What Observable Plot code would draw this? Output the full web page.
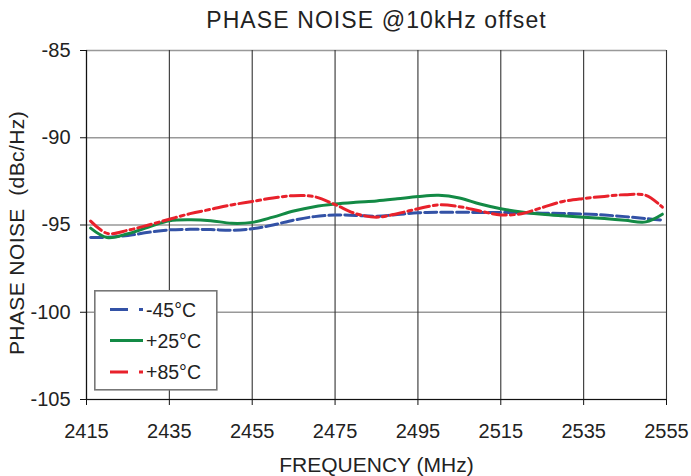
<!DOCTYPE html>
<html>
<head>
<meta charset="utf-8">
<script src="https://cdn.jsdelivr.net/npm/d3@7"></script>
<script src="https://cdn.jsdelivr.net/npm/@observablehq/plot@0.6"></script>
<style>
  html, body { margin: 0; padding: 0; background: #fff; }
  #wrap { position: relative; width: 691px; height: 476px; font-family: "Liberation Sans", Arial, sans-serif; }
  #wrap svg { display: block; }
  #legend { position: absolute; left: 94px; top: 290px; }
</style>
</head>
<body>
<div id="wrap"></div>
<script>
const title = "PHASE NOISE @10kHz offset";
const xLabel = "FREQUENCY (MHz)";
const yLabel = "PHASE NOISE\u00a0 (dBc/Hz)";
const seriesNames = ["-45°C", "+25°C", "+85°C"];
const seriesColors = ["#3352a6", "#138a45", "#e8212b"];
const xTicks = [2415, 2435, 2455, 2475, 2495, 2515, 2535, 2555];
const yTicks = [-85, -90, -95, -100, -105];

const freqs = [2416,2420,2425,2430,2435,2440,2445,2450,2455,2460,2465,2470,2475,2480,2485,2490,2495,2500,2505,2510,2515,2520,2525,2530,2535,2540,2545,2550,2554];
const m45 = [-95.72,-95.7,-95.6,-95.42,-95.28,-95.25,-95.26,-95.3,-95.22,-95.0,-94.72,-94.52,-94.43,-94.45,-94.5,-94.4,-94.3,-94.27,-94.27,-94.28,-94.28,-94.3,-94.32,-94.34,-94.37,-94.43,-94.52,-94.63,-94.72];
const p25 = [-95.18,-95.72,-95.5,-95.12,-94.76,-94.7,-94.75,-94.9,-94.85,-94.55,-94.2,-93.95,-93.8,-93.7,-93.62,-93.5,-93.37,-93.3,-93.45,-93.8,-94.07,-94.25,-94.38,-94.47,-94.55,-94.63,-94.73,-94.82,-94.38];
const p85 = [-94.78,-95.48,-95.3,-95.0,-94.67,-94.35,-94.1,-93.85,-93.65,-93.45,-93.32,-93.38,-93.83,-94.35,-94.55,-94.35,-94.07,-93.85,-93.95,-94.2,-94.42,-94.35,-94.0,-93.65,-93.48,-93.36,-93.26,-93.3,-93.98];

const dashes = ["12,4", null, "14,4,4,4"];
const legendDashes = ["18,11,4,100", null, "18,11,4,100"];
const allSeries = [m45, p25, p85];

const rows = [];
allSeries.forEach((vals, s) => {
  vals.forEach((v, i) => rows.push({f: freqs[i], v, s: seriesNames[s]}));
});

const lineMarks = seriesNames.map((name, s) =>
  Plot.line(rows.filter(d => d.s === name), {
    x: "f", y: "v", stroke: seriesColors[s], strokeWidth: 3,
    strokeDasharray: dashes[s] || undefined, curve: "catmull-rom"
  })
);

const chart = Plot.plot({
  width: 691,
  height: 476,
  marginLeft: 86,
  marginRight: 25,
  marginTop: 50,
  marginBottom: 77,
  style: { fontFamily: "Liberation Sans, Arial, sans-serif", color: "#222", background: "#fff" },
  x: { domain: [2415, 2555] },
  y: { domain: [-105, -85] },
  marks: [
    Plot.ruleY(yTicks, { stroke: "#999", strokeWidth: 1.6 }),
    Plot.ruleX(xTicks, { stroke: "#333", strokeWidth: 1.1 }),
    ...lineMarks,
    Plot.ruleX([xTicks[0]], { stroke: "#111", strokeWidth: 1.2 }),
    Plot.ruleY([yTicks[yTicks.length - 1]], { stroke: "#111", strokeWidth: 1.2 }),
    Plot.axisX({ ticks: xTicks, tickSize: 6, tickPadding: 18, fontSize: 20, tickFormat: d => String(d), label: null, stroke: "#111" }),
    Plot.axisY({ ticks: yTicks, tickSize: 6, tickPadding: 10, fontSize: 20, tickFormat: d => String(d), label: null, stroke: "#111" }),
    Plot.text([title], { frameAnchor: "top", lineAnchor: "middle", textAnchor: "middle", dy: -30, fontSize: 23, fill: "#222" }),
    Plot.text([xLabel], { frameAnchor: "bottom", lineAnchor: "middle", textAnchor: "middle", dy: 66, fontSize: 21, fill: "#222" }),
    Plot.text([yLabel], { frameAnchor: "left", lineAnchor: "middle", textAnchor: "middle", dx: -69, dy: 8, rotate: -90, fontSize: 21, fill: "#222" })
  ]
});

const wrap = document.getElementById("wrap");
wrap.appendChild(chart);

// letter spacing for title and y label
chart.querySelectorAll("text").forEach(t => {
  if (t.textContent === title) t.setAttribute("letter-spacing", "1.1");
  if (t.textContent === yLabel) t.setAttribute("letter-spacing", "0.4");
});

// legend
const ns = "http://www.w3.org/2000/svg";
const lg = document.createElementNS(ns, "svg");
lg.setAttribute("id", "legend");
lg.setAttribute("width", 124);
lg.setAttribute("height", 101);
const box = document.createElementNS(ns, "rect");
box.setAttribute("x", 0.8); box.setAttribute("y", 0.8);
box.setAttribute("width", 122); box.setAttribute("height", 99);
box.setAttribute("fill", "#fff"); box.setAttribute("stroke", "#777"); box.setAttribute("stroke-width", 1.6);
lg.appendChild(box);
const rowY = [19.5, 50.5, 82];
seriesNames.forEach((name, s) => {
  const ln = document.createElementNS(ns, "line");
  ln.setAttribute("x1", 16); ln.setAttribute("x2", 49);
  ln.setAttribute("y1", rowY[s]); ln.setAttribute("y2", rowY[s]);
  ln.setAttribute("stroke", seriesColors[s]); ln.setAttribute("stroke-width", 3);
  if (legendDashes[s]) ln.setAttribute("stroke-dasharray", legendDashes[s]);
  lg.appendChild(ln);
  const t = document.createElementNS(ns, "text");
  t.setAttribute("x", 52); t.setAttribute("y", rowY[s]);
  t.setAttribute("dy", "0.36em");
  t.setAttribute("font-size", 19.5);
  t.setAttribute("font-family", "Liberation Sans, Arial, sans-serif");
  t.setAttribute("fill", "#222");
  t.textContent = name;
  lg.appendChild(t);
});
wrap.appendChild(lg);
</script>
</body>
</html>
